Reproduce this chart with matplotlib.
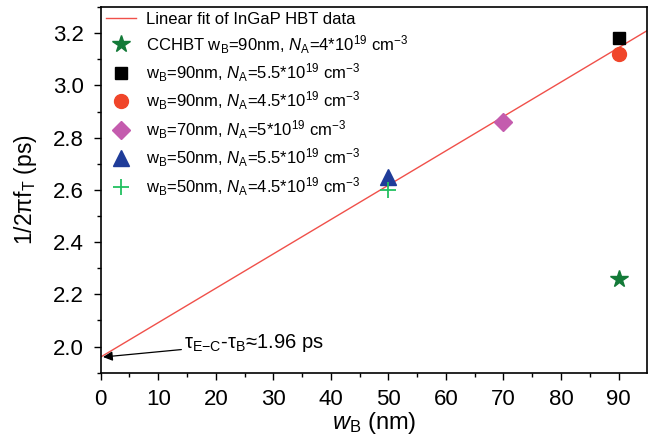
import matplotlib
matplotlib.use("Agg")
import matplotlib.pyplot as plt
import numpy as np

plt.rcParams['font.family'] = ['Liberation Sans', 'DejaVu Sans']
plt.rcParams['mathtext.fontset'] = 'custom'
plt.rcParams['mathtext.rm'] = 'Liberation Sans'
plt.rcParams['mathtext.it'] = 'Liberation Sans:italic'
plt.rcParams['mathtext.sf'] = 'Liberation Sans'

# Data
fit_intercept = 1.96
fit_slope = 0.01316
fit_x = [0, 95]

wb_cchbt = [90]; t_cchbt = [2.26]
wb_sq = [90]; t_sq = [3.18]
wb_circ = [90]; t_circ = [3.12]
wb_dia = [70]; t_dia = [2.86]
wb_tri = [50]; t_tri = [2.65]
wb_plus = [50]; t_plus = [2.60]

x_ticks = [0, 10, 20, 30, 40, 50, 60, 70, 80, 90]
y_ticks = [2.0, 2.2, 2.4, 2.6, 2.8, 3.0, 3.2]

fig = plt.figure(figsize=(6.51, 4.41), dpi=100)
ax = fig.add_axes([0.1547, 0.1549, 0.8396, 0.829])

fx = np.array(fit_x, dtype=float)
ax.plot(fx, fit_intercept + fit_slope * fx, color='#f0504a', lw=1.0,
        label='Linear fit of InGaP HBT data', zorder=2)
ax.plot(wb_cchbt, t_cchbt, ls='none', marker='*', ms=13, color='#137a38',
        label=r'CCHBT w$_\mathregular{B}$=90nm, $N_\mathregular{A}$=4*10$^{19}$ cm$^{-3}$', zorder=3)
ax.plot(wb_sq, t_sq, ls='none', marker='s', ms=9, color='black',
        label=r'w$_\mathregular{B}$=90nm, $N_\mathregular{A}$=5.5*10$^{19}$ cm$^{-3}$', zorder=3)
ax.plot(wb_circ, t_circ, ls='none', marker='o', ms=10, color='#f0452a',
        label=r'w$_\mathregular{B}$=90nm, $N_\mathregular{A}$=4.5*10$^{19}$ cm$^{-3}$', zorder=3)
ax.plot(wb_dia, t_dia, ls='none', marker='D', ms=9, color='#c45cae',
        label=r'w$_\mathregular{B}$=70nm, $N_\mathregular{A}$=5*10$^{19}$ cm$^{-3}$', zorder=3)
ax.plot(wb_tri, t_tri, ls='none', marker='^', ms=11, color='#1f3c99',
        label=r'w$_\mathregular{B}$=50nm, $N_\mathregular{A}$=5.5*10$^{19}$ cm$^{-3}$', zorder=3)
ax.plot(wb_plus, t_plus, ls='none', marker='+', ms=11, mew=1.3, color='#22c060',
        label=r'w$_\mathregular{B}$=50nm, $N_\mathregular{A}$=4.5*10$^{19}$ cm$^{-3}$', zorder=3)

ax.annotate(r'τ$_\mathregular{E{-}C}$-τ$_\mathregular{B}$≈1.96 ps',
            xy=(0.4, fit_intercept), xytext=(14.5, 2.015),
            fontsize=14.5, va='center', ha='left',
            arrowprops=dict(arrowstyle='-|>', color='black', lw=0.9,
                            mutation_scale=14, shrinkA=0, shrinkB=0))

ax.set_xlim(0, 95)
ax.set_ylim(1.9, 3.3)
ax.set_xticks(x_ticks)
ax.set_yticks(y_ticks)
ax.set_yticklabels([f'{v:.1f}' for v in y_ticks])
ax.set_xticks(np.arange(5, 95, 10), minor=True)
ax.set_yticks(np.arange(1.9, 3.31, 0.2), minor=True)
ax.tick_params(which='major', direction='out', length=5, width=1, labelsize=16, pad=7)
ax.tick_params(which='minor', direction='out', length=3, width=1)
for s in ax.spines.values():
    s.set_linewidth(1.2)

ax.set_xlabel(r'$w_\mathregular{B}$ (nm)', fontsize=17, labelpad=0)
ax.set_ylabel(r'1/2πf$_\mathregular{T}$ (ps)', fontsize=16.5, labelpad=10)

leg = ax.legend(loc='upper left', frameon=False, fontsize=12, handlelength=1.8,
                labelspacing=0.35, borderaxespad=0.1, handletextpad=0.6,
                borderpad=0.2, numpoints=1)

fig.savefig('out.png', dpi=100)
